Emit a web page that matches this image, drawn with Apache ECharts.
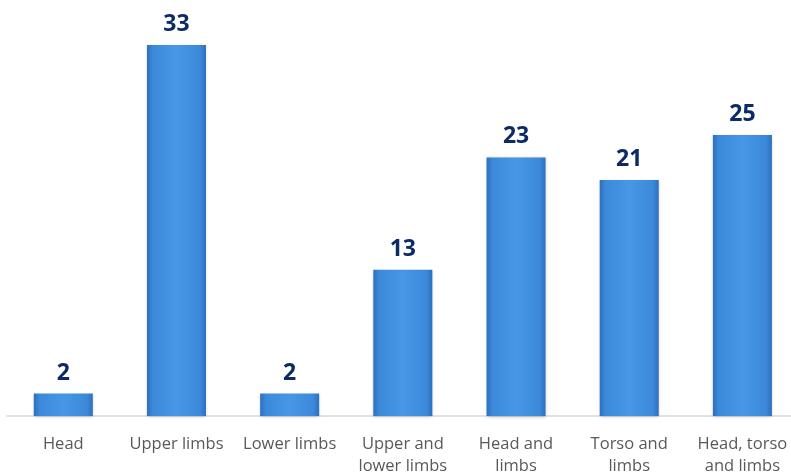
<!DOCTYPE html>
<html><head><meta charset="utf-8">
<script src="https://cdn.jsdelivr.net/npm/echarts@6/dist/echarts.min.js"></script>
<style>html,body{margin:0;padding:0;background:#fff}#c{width:791px;height:473px}</style>
</head><body><div id="c"></div>
<script>
const categories = ["Head", "Upper limbs", "Lower limbs", "Upper and\nlower limbs", "Head and\nlimbs", "Torso and\nlimbs", "Head, torso\nand limbs"];
const values = [2, 33, 2, 13, 23, 21, 25];

const chart = echarts.init(document.getElementById('c'), null, {renderer: 'canvas'});
chart.setOption({
  animation: false,
  grid: {left: 6.7, width: 792.3, top: 0, height: 416, containLabel: false, outerBoundsMode: 'none'},
  xAxis: {
    type: 'category', data: categories,
    axisLine: {show: true, lineStyle: {color: '#D9D9D9', width: 1.5}},
    axisTick: {show: false},
    axisLabel: {color: '#595959', fontSize: 16.5, fontFamily: 'Open Sans', margin: 17, lineHeight: 22, interval: 0}
  },
  yAxis: {type: 'value', min: 0, max: 37, show: false, splitLine: {show: false}},
  series: [{
    type: 'bar', data: values, barWidth: 59,
    itemStyle: {
      color: new echarts.graphic.LinearGradient(0, 0, 1, 0, [
        {offset: 0, color: '#2C6FBE'},
        {offset: 0.1, color: '#3C89DA'},
        {offset: 0.5, color: '#4797E7'},
        {offset: 0.9, color: '#3C89DA'},
        {offset: 1, color: '#2C6FBE'}
      ]),
      shadowColor: 'rgba(0,0,0,0.25)', shadowBlur: 3, shadowOffsetY: 1
    },
    label: {
      show: true, position: 'top', distance: 9,
      color: '#0B2A66', fontSize: 23, fontWeight: 'bold', fontFamily: 'Open Sans'
    }
  }]
});
</script></body></html>
